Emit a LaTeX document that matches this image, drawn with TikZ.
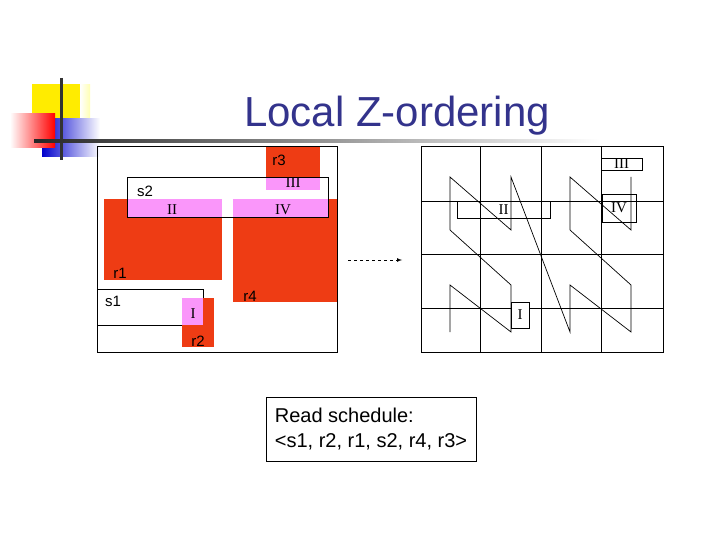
\documentclass[tikz,border=0pt]{standalone}
\usepackage{fontspec}
\setmainfont{Liberation Sans}
\newfontfamily\rom{Liberation Serif}
\begin{document}
\begin{tikzpicture}[x=1pt,y=-1pt,
  lab/.style={font=\fontsize{15}{15}\selectfont, inner sep=0pt},
  rn/.style={font=\rom\fontsize{15}{15}\selectfont, inner sep=0pt},
  redbox/.style={fill=red!85!orange!80!black, fill=redc, draw=black, line width=0.6pt},
  pinkbox/.style={fill=pinkc},
  ln/.style={line width=0.7pt}]
\definecolor{redc}{RGB}{238,60,20}
\definecolor{pinkc}{RGB}{250,150,250}
\definecolor{titc}{RGB}{51,51,140}
\useasboundingbox (0,0) rectangle (720,540);
% logo
\fill[yellow!85!orange] (32,85) rectangle (80,120);
\shade[right color=yellow!85!orange,left color=yellow!85!orange, middle color=yellow!85!orange] (32,85) rectangle (80,120);
\shade[left color=white, right color=white!70!yellow] (80,85) rectangle (90,120);
\shade[left color=blue!80!black, right color=white] (42,119) rectangle (100,157);
\shade[left color=white, right color=red] (10,114) rectangle (55,148);
\draw[line width=3pt, black!80] (61,78) -- (61,160);
\shade[left color=black!85, right color=white] (34,139.5) rectangle (600,142.5);
\node[text=titc, font=\fontsize{42}{42}\selectfont, anchor=base] (title) at (397,127) {Local Z-ordering};
% left diagram
\draw[ln] (97,146) rectangle (337,352);
\fill[redc] (266,146) rectangle (320,190);
\fill[pinkc] (266,177) rectangle (320,190);
\fill[redc] (104,199) rectangle (222,280);
\fill[pinkc] (127,199) rectangle (222,217);
\fill[redc] (233,199) rectangle (337,302);
\fill[pinkc] (233,199) rectangle (328,217);
\draw[ln] (127,217) -- (127,177) -- (328,177) -- (328,217) -- (127,217);
\fill[white] (97,289) rectangle (182,325);
\draw[ln] (97,289) -- (203,289) -- (203,298);
\draw[ln] (97,325) -- (182,325);
\fill[redc] (182,298) rectangle (214,347);
\fill[pinkc] (182,298) rectangle (203,325);
\draw[ln] (97,146) rectangle (337,352);
\node[lab] (r3) at (279,160) {r3};
\node[lab] (s2) at (145,191) {s2};
\node[rn] (ii) at (172,210) {II};
\node[rn] (iii) at (293,183) {III};
\node[rn] (iv) at (283,210) {IV};
\node[lab] (r1) at (120,273) {r1};
\node[lab] (r4) at (250,296) {r4};
\node[lab] (s1) at (113,301) {s1};
\node[rn] (i) at (193,314) {I};
\node[lab] (r2) at (198,341) {r2};
% arrow
\coordinate (a1) at (348,260);
\coordinate (a2) at (402,260);
\draw[dashed, ln, -latex] (a1) -- (a2);
% right grid
\draw[ln] (421,146) rectangle (663,352);
\foreach \x in {480,541,601} \draw[ln] (\x,146) -- (\x,352);
\foreach \y in {201,254,308} \draw[ln] (421,\y) -- (663,\y);
\draw[ln] (450,332) -- (450,285) -- (511,332) -- (511,285) -- (450,230) -- (450,177) -- (511,230) -- (511,177)
  -- (570,332) -- (570,285) -- (631,332) -- (631,285) -- (570,230) -- (570,177) -- (631,230) -- (631,177);
\node[rn, draw, line width=0.7pt, minimum width=41pt, minimum height=12pt] (biii) at (621.5,164) {III};
\node[rn, draw, line width=0.7pt, minimum width=93pt, minimum height=17pt] (bii) at (503.5,209.5) {II};
\node[rn, draw, line width=0.7pt, minimum width=34pt, minimum height=28pt] (biv) at (619,208) {IV};
\node[rn, draw, line width=0.7pt, minimum width=18pt, minimum height=26pt, fill=white] (bi) at (520,315) {I};
% schedule
\node[draw, line width=0.7pt, font=\fontsize{20}{25}\selectfont, align=left, minimum width=210pt, minimum height=64pt, inner sep=3pt] (sched) at (371,429) {Read schedule:\\<s1, r2, r1, s2, r4, r3>};
\end{tikzpicture}
\end{document}
